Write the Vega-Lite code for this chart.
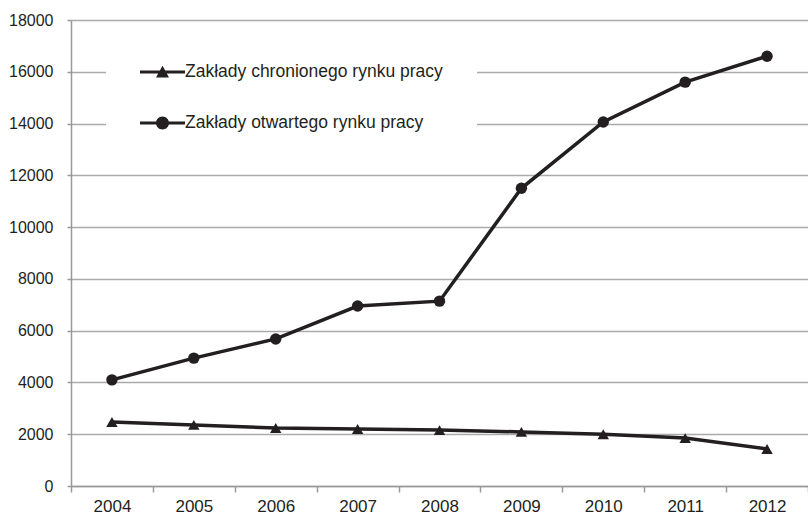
{
  "$schema": "https://vega.github.io/schema/vega-lite/v6.json",
  "width": 737,
  "height": 466,
  "autosize": {"type": "none"},
  "padding": {"left": 71, "top": 20, "right": 0, "bottom": 30},
  "background": "white",
  "config": {
    "view": {"stroke": null},
    "font": "Liberation Sans",
    "axis": {"labelFont": "Liberation Sans", "labelFontSize": 16, "labelColor": "#231f20", "domainColor": "#999999", "tickColor": "#999999", "domainWidth": 1.5, "tickWidth": 1.5, "gridColor": "#aaaaaa", "gridWidth": 1.5, "title": null}
  },
  "data": {
    "values": [
      {"year": "2004", "series": "Zakłady chronionego rynku pracy", "value": 2470},
      {"year": "2005", "series": "Zakłady chronionego rynku pracy", "value": 2360},
      {"year": "2006", "series": "Zakłady chronionego rynku pracy", "value": 2240},
      {"year": "2007", "series": "Zakłady chronionego rynku pracy", "value": 2200},
      {"year": "2008", "series": "Zakłady chronionego rynku pracy", "value": 2160},
      {"year": "2009", "series": "Zakłady chronionego rynku pracy", "value": 2090},
      {"year": "2010", "series": "Zakłady chronionego rynku pracy", "value": 2000},
      {"year": "2011", "series": "Zakłady chronionego rynku pracy", "value": 1850},
      {"year": "2012", "series": "Zakłady chronionego rynku pracy", "value": 1430},
      {"year": "2004", "series": "Zakłady otwartego rynku pracy", "value": 4100},
      {"year": "2005", "series": "Zakłady otwartego rynku pracy", "value": 4940},
      {"year": "2006", "series": "Zakłady otwartego rynku pracy", "value": 5680},
      {"year": "2007", "series": "Zakłady otwartego rynku pracy", "value": 6950},
      {"year": "2008", "series": "Zakłady otwartego rynku pracy", "value": 7140},
      {"year": "2009", "series": "Zakłady otwartego rynku pracy", "value": 11500},
      {"year": "2010", "series": "Zakłady otwartego rynku pracy", "value": 14060},
      {"year": "2011", "series": "Zakłady otwartego rynku pracy", "value": 15600},
      {"year": "2012", "series": "Zakłady otwartego rynku pracy", "value": 16600}
    ]
  },
  "encoding": {
    "x": {"field": "year", "type": "ordinal", "bandPosition": 0.5,
      "scale": {"type": "band", "paddingInner": 0, "paddingOuter": 0},
      "axis": {"labelAngle": 0, "tickBand": "extent", "tickSize": 6, "labelPadding": 6, "labelFontSize": 17, "grid": false}},
    "y": {"field": "value", "type": "quantitative",
      "scale": {"domain": [0, 18000], "nice": false},
      "axis": {"values": [0, 2000, 4000, 6000, 8000, 10000, 12000, 14000, 16000, 18000], "format": "d", "tickSize": 4, "labelPadding": 14, "grid": true}}
  },
  "layer": [
    {"mark": {"type": "line", "color": "#231f20", "strokeWidth": 3.5},
     "encoding": {"detail": {"field": "series"}}},
    {"mark": {"type": "point", "filled": true, "color": "#231f20", "opacity": 1, "size": 130},
     "encoding": {"shape": {"field": "series", "scale": {"domain": ["Zakłady chronionego rynku pracy", "Zakłady otwartego rynku pracy"], "range": ["triangle-up", "circle"]}, "legend": null}}},
    {"mark": {"type": "point", "filled": true, "color": "#231f20", "opacity": 0, "size": 400},
     "encoding": {"shape": {"field": "series",
       "scale": {"domain": ["Zakłady chronionego rynku pracy", "Zakłady otwartego rynku pracy"], "range": ["M-1,-0.16H3.5V0.16H-1Z M1.25,-0.62L1.9,0.55H0.6Z", "M-1,-0.16H3.5V0.16H-1Z M1.9,0A0.65,0.65,0,1,1,0.6,0A0.65,0.65,0,1,1,1.9,0Z"]},
       "legend": {"orient": "none", "legendX": 35, "legendY": 8, "padding": 34, "fillColor": "white", "title": null,
         "labelFont": "Liberation Sans", "labelFontSize": 17.5, "labelLimit": 500, "labelColor": "#231f20", "labelOffset": 25, "rowPadding": 32,
         "symbolSize": 400, "symbolOpacity": 1, "symbolFillColor": "#231f20", "symbolStrokeWidth": 0,
         "encode": {"symbols": {"update": {"opacity": {"value": 1}, "fill": {"value": "#231f20"}, "fillOpacity": {"value": 1}, "strokeWidth": {"value": 0}}}}}}}}
  ],
  "resolve": {"scale": {"shape": "independent"}, "legend": {"shape": "independent"}}
}
